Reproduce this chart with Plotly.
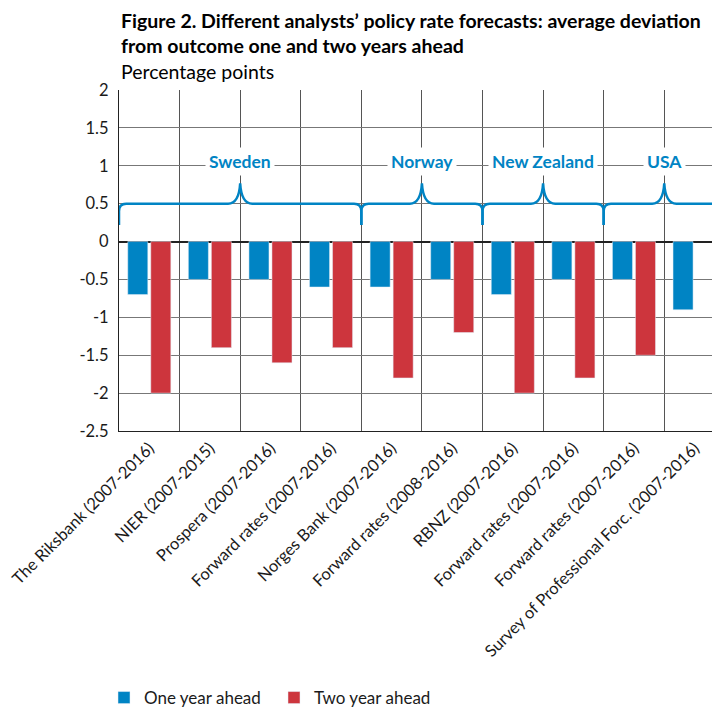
import plotly.graph_objects as go

categories = [
    "The Riksbank (2007-2016)", "NIER (2007-2015)", "Prospera (2007-2016)",
    "Forward rates (2007-2016)", "Norges Bank (2007-2016)", "Forward rates (2008-2016)",
    "RBNZ (2007-2016)", "Forward rates (2007-2016)", "Forward rates (2007-2016)",
    "Survey of Professional Forc. (2007-2016)",
]
one_year = [-0.7, -0.5, -0.5, -0.6, -0.6, -0.5, -0.7, -0.5, -0.5, -0.9]
two_year = [-2.0, -1.4, -1.6, -1.4, -1.8, -1.2, -2.0, -1.8, -1.5, None]
groups = ["Sweden", "Norway", "New Zealand", "USA"]
group_spans = [(0, 3), (4, 5), (6, 7), (8, 9)]
y_ticks = [2, 1.5, 1, 0.5, 0, -0.5, -1, -1.5, -2, -2.5]

BLUE = "#0084C4"
RED = "#CD353D"
FONT = "Lato"
TXT = "#1a1a1a"

# page body has an 8px margin: figure drawn at (8, 8)
W, H = 712, 701
ML, MT, MB = 111, 82, 278
PH = H - MT - MB

xs = list(range(len(categories)))
fig = go.Figure()
fig.add_trace(go.Bar(x=xs, y=one_year, name="One year ahead", marker_color=BLUE))
fig.add_trace(go.Bar(x=xs, y=two_year, name="Two year ahead", marker_color=RED))


def brace_path(x0, x1, yl=0.5, ytip=0.77, yend=0.22):
    c = (x0 + x1) / 2
    return (f"M {x0},{yend} L {x0},{yl-0.1} Q {x0},{yl} {x0+0.12},{yl} "
            f"L {c-0.2},{yl} Q {c-0.02},{yl} {c},{ytip} "
            f"Q {c+0.02},{yl} {c+0.2},{yl} "
            f"L {x1-0.12},{yl} Q {x1},{yl} {x1},{yl-0.1} L {x1},{yend}")


for name, (a, b) in zip(groups, group_spans):
    x0, x1 = a - 0.5, b + 0.5
    fig.add_shape(type="path", path=brace_path(x0, x1), xref="x", yref="y",
                  line=dict(color=BLUE, width=2.5))
    fig.add_annotation(x=(x0 + x1) / 2, y=1.05, xref="x", yref="y", text=f"<b>{name}</b>",
                       showarrow=False, font=dict(family=FONT, size=17.5, color=BLUE),
                       bgcolor="white", borderpad=3)

title_lines = [
    ("<b>Figure 2. Different analysts’ policy rate forecasts: average deviation</b>", 69),
    ("<b>from outcome one and two years ahead</b>", 45),
    ("Percentage points", 19),
]
for txt, dy in title_lines:
    fig.add_annotation(x=0, y=1.0 + dy / PH, xref="paper", yref="paper", xanchor="left",
                       yanchor="middle", showarrow=False, align="left", text=txt,
                       font=dict(family=FONT, size=19.5, color="black"))

fig.update_layout(
    width=W, height=H,
    margin=dict(l=ML, r=0, t=MT, b=MB),
    plot_bgcolor="white", paper_bgcolor="white",
    barmode="group", bargap=0.24, bargroupgap=0.13,
    font=dict(family=FONT, size=16, color=TXT),
    showlegend=True,
    legend=dict(orientation="h", x=96 / W, xref="container", y=1 - 690 / H,
                yref="container", yanchor="middle", xanchor="left",
                entrywidth=125, entrywidthmode="pixels",
                font=dict(family=FONT, size=17, color=TXT)),
    xaxis=dict(range=[-0.5, 9.42], tickmode="array", tickvals=xs, ticktext=categories,
               tickangle=-45, showgrid=False, ticks="", zeroline=False,
               ticklabeloverflow="allow",
               tickfont=dict(family=FONT, size=16.5, color=TXT),
               showline=True, linecolor="#222", linewidth=1.2,
               minor=dict(tickmode="linear", tick0=-0.5, dtick=1, showgrid=True,
                          gridcolor="#555", gridwidth=1, ticks="")),
    yaxis=dict(range=[-2.5, 2], tickmode="array", tickvals=y_ticks,
               ticktext=[f"{v:g}" for v in y_ticks],
               tickfont=dict(family=FONT, size=16.5, color=TXT),
               showgrid=True, gridcolor="#777", gridwidth=1,
               zeroline=True, zerolinecolor="#222", zerolinewidth=1.5,
               showline=True, linecolor="#222", linewidth=1.2, ticks="",
               ticklabelstandoff=6),
)

fig.write_html("out.html")
